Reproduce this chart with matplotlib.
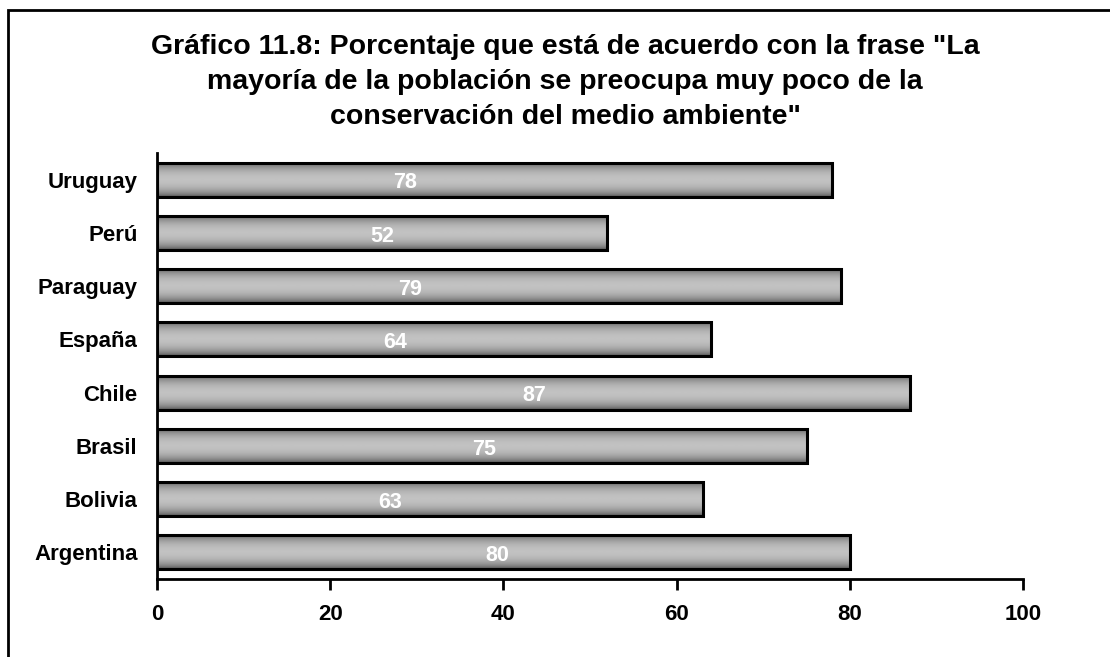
import numpy as np
import matplotlib.pyplot as plt
from matplotlib.patches import Rectangle

# data
paises = ['Argentina', 'Bolivia', 'Brasil', 'Chile', 'España', 'Paraguay', 'Perú', 'Uruguay']
porcentajes = [80, 63, 75, 87, 64, 79, 52, 78]
# where Excel dropped the white value labels (x, in axis units)
label_x = [39.3, 26.9, 37.8, 43.6, 27.5, 29.2, 26.0, 28.6]

titulo = ('Gráfico 11.8: Porcentaje que está de acuerdo con la frase "La\n'
          'mayoría de la población se preocupa muy poco de la\n'
          'conservación del medio ambiente"')

plt.rcParams['font.family'] = ['Liberation Sans', 'DejaVu Sans']

fig = plt.figure(figsize=(11.1, 6.57), dpi=100)
W, H = 1110, 657
ax = fig.add_axes([157 / W, 1 - 579 / H, (1023 - 157) / W, (579 - 153) / H])

# outer frame (only top and left edges visible in the reference)
fig.patches.append(Rectangle((8 / W, -0.05), 1.2, 1 - 10 / H + 0.05,
                             transform=fig.transFigure, fill=False,
                             edgecolor='black', linewidth=2, zorder=0))

y = np.arange(len(paises))
bars = ax.barh(y, porcentajes, height=0.64, color='none',
               edgecolor='black', linewidth=2.2, zorder=3)

# vertical grey gradient: dark at edges, light in the middle
t = np.linspace(-1, 1, 64)
grad = (0.30 + 0.46 * (1 - t ** 2) ** 0.7)[:, None]
for b in bars:
    x0, y0 = b.get_x(), b.get_y()
    im = ax.imshow(grad, cmap='gray', vmin=0, vmax=1, aspect='auto',
                   extent=(x0, x0 + b.get_width(), y0, y0 + b.get_height()),
                   zorder=2, interpolation='bilinear')
    im.set_clip_path(b)

for yi, lx, v in zip(y, label_x, porcentajes):
    ax.text(lx, yi - 0.06, str(v), color='white', fontsize=15.5,
            fontweight='bold', ha='center', va='center', zorder=4)

ax.set_xlim(0, 100)
ax.set_ylim(-0.5, len(paises) - 0.5)
ax.set_xticks(range(0, 101, 20))
ax.set_yticks(y)
ax.set_yticklabels(paises)
for s in ['top', 'right']:
    ax.spines[s].set_visible(False)
ax.spines['left'].set_linewidth(2)
ax.spines['bottom'].set_linewidth(2)
ax.tick_params(axis='x', length=8, width=2, pad=10, labelsize=16)
ax.tick_params(axis='y', length=0, pad=14, labelsize=16)
for lab in ax.get_xticklabels() + ax.get_yticklabels():
    lab.set_fontweight('bold')

fig.text(565 / W, 1 - 82 / H, titulo, ha='center', va='center',
         fontsize=20.5, fontweight='bold', linespacing=1.45)

fig.savefig('out.png', dpi=100)
